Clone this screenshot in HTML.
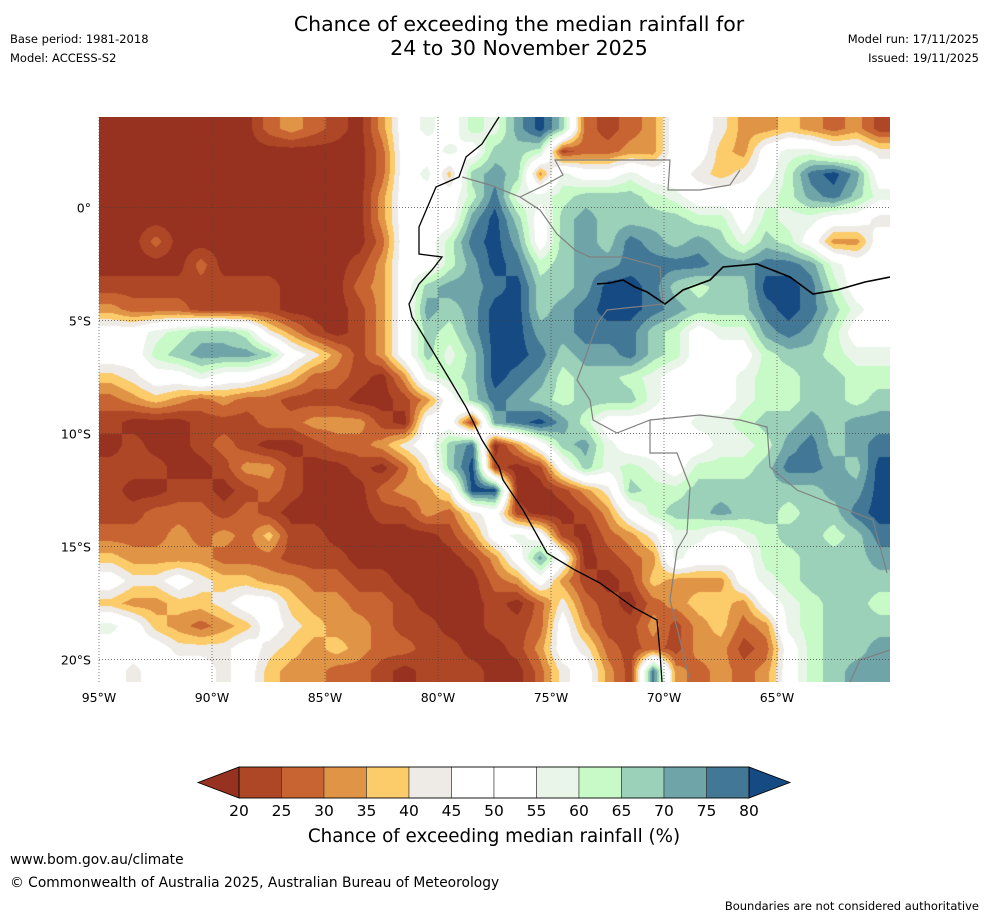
<!DOCTYPE html>
<html><head><meta charset="utf-8">
<style>
body{margin:0;background:#fff;width:988px;height:919px;overflow:hidden;font-family:"DejaVu Sans","Liberation Sans",sans-serif;}
.t{position:absolute;white-space:nowrap;color:#000}
</style></head>
<body>
<div class="t" style="left:0;width:1038px;top:12px;text-align:center;font-size:20.5px;line-height:24px">Chance of exceeding the median rainfall for<br>24 to 30 November 2025</div>
<div class="t" style="left:10px;top:32px;font-size:11.5px">Base period: 1981-2018</div>
<div class="t" style="left:10px;top:51px;font-size:11.5px">Model: ACCESS-S2</div>
<div class="t" style="right:9px;top:32px;font-size:11.5px">Model run: 17/11/2025</div>
<div class="t" style="right:9px;top:51px;font-size:11.5px">Issued: 19/11/2025</div>

<canvas id="cv" width="791" height="565" style="position:absolute;left:99px;top:117px"></canvas>
<svg id="ov" width="988" height="919" style="position:absolute;left:0;top:0"></svg>

<div class="t" style="left:0;width:988px;top:826px;text-align:center;font-size:18.3px">Chance of exceeding median rainfall (%)</div>
<div class="t" style="left:10px;top:852px;font-size:13.8px">www.bom.gov.au/climate</div>
<div class="t" style="left:10px;top:875px;font-size:13.8px">© Commonwealth of Australia 2025, Australian Bureau of Meteorology</div>
<div class="t" style="right:9px;top:899px;font-size:11.5px">Boundaries are not considered authoritative</div>

<script>
// Data: 1-degree grid, lon -95..-60 (35 cols), lat 4..-21 (25 rows); hex code = probability class
const classColors = ["#96321f","#ad4726","#c86432","#e09446","#fccb6a","#eeebe6","#ffffff","#e9f5e9","#c8fac8","#9bd0b9","#6fa5a8","#427896","#154a82"];
const classValues = [17.5,22.5,27.5,32.5,37.5,42.5,50,57.5,62.5,67.5,72.5,77.5,82.5];
const tickLabels = ["20","25","30","35","40","45","50","55","60","65","70","75","80"];
const lonTicks = [-95,-90,-85,-80,-75,-70,-65];
const latTicks = [0,-5,-10,-15,-20];
const gridRows = [
"0000000|2321|0367|687a|c921|2366|5334|3231",
"000000000000|2667|6998|1223|3664|3677|665",
"000000000000|2674|9a93|7667|6654|568b|ca6",
"000000000000|3666|8b77|8999|8766|678a|b97",
"000000000000|3666|ac96|9a99|9988|6877|665",
"002000000000|2668|bca6|9a9b|a9a9|7986|336",
"000020000001|3668|acb8|9aab|bbba|abba|766",
"111111110002|369a|abc9|9acc|b989|9ccb|866",
"322211110001|36a9|acc9|abcc|ba99|9bcb|976",
"667899853101|3698|acca|abbb|9867|7aba|866",
"6689aaa96531|3697|9ccb|9aab|9866|6899|877",
"456676654221|0378|9cba|8998|7666|7889|988",
"234323221110|0136|9ba9|8999|7666|7889|989",
"100011122333|1066|1abc|a866|6677|899a|9aa",
"010012100122|3569|b036|9a76|6667|78ab|9ab",
"111001331001|0259|c101|6978|7688|89bb|a9c",
"100110121000|2335|cc00|1359|8899|9999|aac",
"112221210000|1132|5610|0136|899a|9989|9bc",
"222323241100|0001|3676|1023|5776|7899|89b",
"433332221110|0000|136a|6012|3766|6889|99a",
"655654433221|1000|0236|3101|4333|6789|999",
"433445664332|2100|0102|5210|2344|3678|998",
"764323465433|2110|0112|6311|3134|2378|999",
"666555654343|2211|0013|6521|2133|1268|99a",
"656665643322|1011|1002|5631|b323|2368|9aa"
].map(r=>r.replace(/\|/g,""));
const riverX = [597,610,623,635,647,665,683,710,723,757,790,813,837,865,890];
const riverY = [284,283,280,287,292,304,290,280,267,264,277,294,290,282,277];
const coastX = [499,482,466,459,436,419,419,442,432,419,409,412,432,450,466,482,499,503,523,547,575,600,633,657,660,662];
const coastY = [117,144,157,177,187,227,254,257,270,284,304,317,350,380,407,440,467,480,510,553,570,583,607,620,653,682];
</script>
<script>
const X0=99,Y0=117,W=791,H=565,LON0=-95,LAT0=4,PX=22.6;
const NC=35,NR=25;
function lonX(l){return X0+(l-LON0)*PX;}
function latY(l){return Y0+(LAT0-l)*PX;}
const vals=gridRows.map(r=>{const a=[];for(let i=0;i<NC;i++){const ch=r[Math.min(i,r.length-1)];a.push(classValues[parseInt(ch,16)]);}return a;});
function v(i,j){i=Math.max(0,Math.min(NC-1,i));j=Math.max(0,Math.min(NR-1,j));return vals[j][i];}
function hex(c){return [parseInt(c.slice(1,3),16),parseInt(c.slice(3,5),16),parseInt(c.slice(5,7),16)];}
const rgb=classColors.map(hex);
function cls2(x){if(x<20)return 0;if(x<25)return 1;if(x<30)return 2;if(x<35)return 3;if(x<40)return 4;if(x<45)return 5;if(x<55)return 6;if(x<60)return 7;if(x<65)return 8;if(x<70)return 9;if(x<75)return 10;if(x<80)return 11;return 12;}
const cv=document.getElementById('cv');const ctx=cv.getContext('2d');
const img=ctx.createImageData(W,H);
for(let py=0;py<H;py++){
  const gy=py/PX-0.5;const j=Math.floor(gy);const fy=gy-j;
  for(let px=0;px<W;px++){
    const gx=px/PX-0.5;const i=Math.floor(gx);const fx=gx-i;
    const a=v(i,j)*(1-fx)+v(i+1,j)*fx, b=v(i,j+1)*(1-fx)+v(i+1,j+1)*fx;
    const val=a*(1-fy)+b*fy;
    const c=rgb[cls2(val)];const o=(py*W+px)*4;
    img.data[o]=c[0];img.data[o+1]=c[1];img.data[o+2]=c[2];img.data[o+3]=255;
  }
}
ctx.putImageData(img,0,0);

const NS="http://www.w3.org/2000/svg";const ov=document.getElementById('ov');
function mk(t,at,parent){const e=document.createElementNS(NS,t);for(const k in at)e.setAttribute(k,at[k]);(parent||ov).appendChild(e);return e;}
const borders=[
 [[462,177],[490,185],[520,197],[540,210],[557,234],[575,250],[590,257],[623,257],[660,267],[663,304],[607,310],[597,324],[583,364],[577,380],[590,400],[593,420],[617,433],[650,420],[650,453],[677,453],[690,487],[687,533],[677,550],[670,600],[680,640],[690,682]],
 [[650,420],[700,415],[740,420],[767,427],[770,467],[797,490],[840,507],[873,520],[887,573]],
 [[520,197],[545,185],[563,175],[555,160],[670,160],[668,190],[700,190],[730,185],[740,170]],
 [[850,682],[860,660],[890,650]]
];
borders.forEach(b=>{
 const p=mk('polyline',{points:b.map(q=>q.join(",")).join(" "),fill:"none",stroke:"#808080","stroke-width":1.2});
 
 
});
let pts=coastX.map((x,k)=>x+","+coastY[k]).join(" ");
const coast=mk('polyline',{points:pts,fill:"none",stroke:"#000","stroke-width":1.3});


let rp=riverX.map((x,k)=>x+","+riverY[k]).join(" ");
const river=mk('polyline',{points:rp,fill:"none",stroke:"#000","stroke-width":1.6});


lonTicks.forEach((l,k)=>{const x=lonX(l);
  const g=mk('line',{x1:x,x2:x,y1:Y0,y2:Y0+H,stroke:"#444","stroke-width":0.7,"stroke-dasharray":"1,2"});
  
  
  const t=mk('text',{x:x,y:702,"text-anchor":"middle","font-size":12.5,"font-family":"DejaVu Sans, sans-serif"});
  t.textContent=(-l)+"°W";
  
  
});
latTicks.forEach(l=>{const y=latY(l);
  const g=mk('line',{x1:X0,x2:X0+W,y1:y,y2:y,stroke:"#444","stroke-width":0.7,"stroke-dasharray":"1,2"});
  
  
  const t=mk('text',{x:91,y:y+5,"text-anchor":"end","font-size":12.5,"font-family":"DejaVu Sans, sans-serif"});
  t.textContent=l===0?"0°":(-l)+"°S";
  
  
});
const cbX=239,cbW=510,cbY=767,cbH=31,n=12,sw=cbW/n;
const lt=mk('polygon',{points:`${cbX},${cbY} ${cbX},${cbY+cbH} 198,${cbY+cbH/2}`,fill:classColors[0],stroke:"#000","stroke-width":0.8});


const rt=mk('polygon',{points:`${cbX+cbW},${cbY} ${cbX+cbW},${cbY+cbH} 790,${cbY+cbH/2}`,fill:classColors[12],stroke:"#000","stroke-width":0.8});


const segClass=[1,2,3,4,5,6,6,7,8,9,10,11];
segClass.forEach((c,k)=>{
  const r=mk('rect',{x:cbX+k*sw,y:cbY,width:sw,height:cbH,fill:classColors[c],stroke:"#333","stroke-width":0.6});
  
  
});
mk('rect',{x:cbX,y:cbY,width:cbW,height:cbH,fill:"none",stroke:"#000","stroke-width":0.8});
tickLabels.forEach((s,k)=>{
  const t=mk('text',{x:cbX+k*(cbW/12),y:816,"text-anchor":"middle","font-size":15.5,"font-family":"DejaVu Sans, sans-serif"});
  t.textContent=s;
  
  
});
</script>
</body></html>
